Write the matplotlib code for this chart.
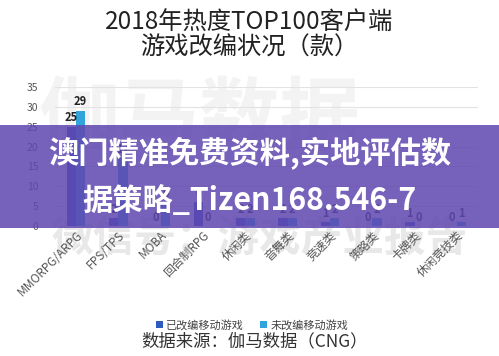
import matplotlib.pyplot as plt
import numpy as np
from matplotlib.patches import Rectangle

plt.rcParams['font.family'] = ['Noto Sans CJK SC', 'DejaVu Sans']

categories = ['MMORPG/ARPG', 'FPS/TPS', 'MOBA', '回合制RPG', '休闲类',
              '音舞类', '竞速类', '策略类', '卡牌类', '休闲竞技类']
adapted = [25, 2, 0, 6, 2, 2, 1, 0, 1, 0]
not_adapted = [29, 17, 6, 0, 2, 2, 2, 2, 0, 1]
series_names = ['已改编移动游戏', '未改编移动游戏']
yticks = [0, 5, 10, 15, 20, 25, 30, 35]

fig = plt.figure(figsize=(4.99, 3.56), dpi=100)
fig.patch.set_facecolor('white')

# faint watermark behind everything
fig.text(0.40, 0.66, '伽马数据', fontsize=58, color='#f3f3f3', ha='center',
         va='center', fontweight='bold', zorder=-5)
fig.text(0.52, 0.33, '微信号：游戏产业报告', fontsize=30, color='#e8e8e8',
         ha='center', va='center', fontweight='bold', zorder=-5)

ax = fig.add_axes([0.11, 0.365, 0.848, 0.391])
ax.patch.set_visible(False)

x = np.arange(len(categories))
w = 0.22
b1 = ax.bar(x - w / 2, adapted, w, color='#2c5cc0', label=series_names[0], zorder=3)
b2 = ax.bar(x + w / 2, not_adapted, w, color='#31a4dc', label=series_names[1], zorder=3)

for bars, vals in ((b1, adapted), (b2, not_adapted)):
    for r, v in zip(bars, vals):
        ax.text(r.get_x() + r.get_width() / 2, v + 0.6, str(v), ha='center',
                va='bottom', fontsize=8, color='#222222', fontweight='bold', zorder=4)

ax.set_ylim(0, 35)
ax.set_xlim(-0.5, len(categories) - 0.5)
ax.set_yticks(yticks)
ax.tick_params(axis='y', length=0, labelsize=7.5, labelcolor='#555555', pad=12)
ax.tick_params(axis='x', length=0, labelsize=8.5, labelcolor='#555555', pad=2)
ax.set_xticks(x)
ax.set_xticklabels(categories, rotation=45, ha='right', rotation_mode='anchor')
ax.grid(axis='y', color='#e2e2e2', linewidth=0.8, zorder=0)
for s in ax.spines.values():
    s.set_visible(False)

leg = ax.legend(loc='upper center', bbox_to_anchor=(0.466, -0.6), ncol=2,
                frameon=False, fontsize=8, handlelength=0.6, handleheight=0.6,
                handletextpad=0.3, columnspacing=1.5)
for t in leg.get_texts():
    t.set_color('#444444')

fig.text(0.5, 0.935, '2018年热度TOP100客户端', fontsize=17.5, ha='center',
         va='center', color='#222222', fontweight='medium')
fig.text(0.5, 0.865, '游戏改编状况（款）', fontsize=17.5, ha='center',
         va='center', color='#222222', fontweight='medium')
fig.text(0.51, 0.04, '数据来源：伽马数据（CNG）', fontsize=12.5, ha='center',
         va='center', color='#333333')

# overlay banner
fig.patches.append(Rectangle((0, 0.36), 1, 0.29, transform=fig.transFigure,
                             facecolor='#6048b0', alpha=0.86, zorder=10))
fig.text(0.5, 0.568, '澳门精准免费资料,实地评估数', fontsize=21.8, ha='center',
         va='center', color='white', fontweight='bold', zorder=11)
fig.text(0.5, 0.435, '据策略_Tizen168.546-7', fontsize=21.8, ha='center',
         va='center', color='white', fontweight='bold', zorder=11)

plt.savefig('out.png', dpi=100)
